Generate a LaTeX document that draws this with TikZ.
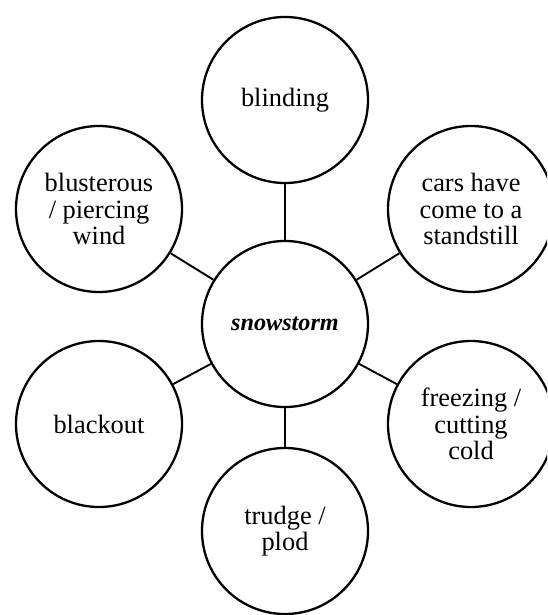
\documentclass[tikz,border=0pt]{standalone}
\usepackage{fontspec}
\setmainfont{Liberation Serif}
\begin{document}
\begin{tikzpicture}[x=1pt,y=-1pt,
  bub/.style={draw=black,line width=2.3pt,circle,minimum size=166pt,inner sep=0pt,align=center,
    font=\fontsize{26.4pt}{26.7pt}\selectfont},
  hub/.style={bub,font=\fontsize{24.2pt}{26.7pt}\selectfont\bfseries\itshape},
  link/.style={draw=black,line width=1.9pt}]
\useasboundingbox (0,0) rectangle (547,615);
\clip (0,0) rectangle (547,615);
\node[hub] (c) at (285,324) {snowstorm};
\node[bub] (n1) at (285,100) {blinding};
\node[bub] (n2) at (471,209) {cars have\\come to a\\standstill};
\node[bub] (n3) at (471,424) {freezing /\\cutting\\cold};
\node[bub] (n4) at (285,531) {trudge /\\plod};
\node[bub] (n5) at (99,424) {blackout};
\node[bub] (n6) at (99,209) {blusterous\\/ piercing\\wind};
\foreach \n in {n1,n2,n3,n4,n5,n6} \draw[link] (c) -- (\n);
\end{tikzpicture}
\end{document}
